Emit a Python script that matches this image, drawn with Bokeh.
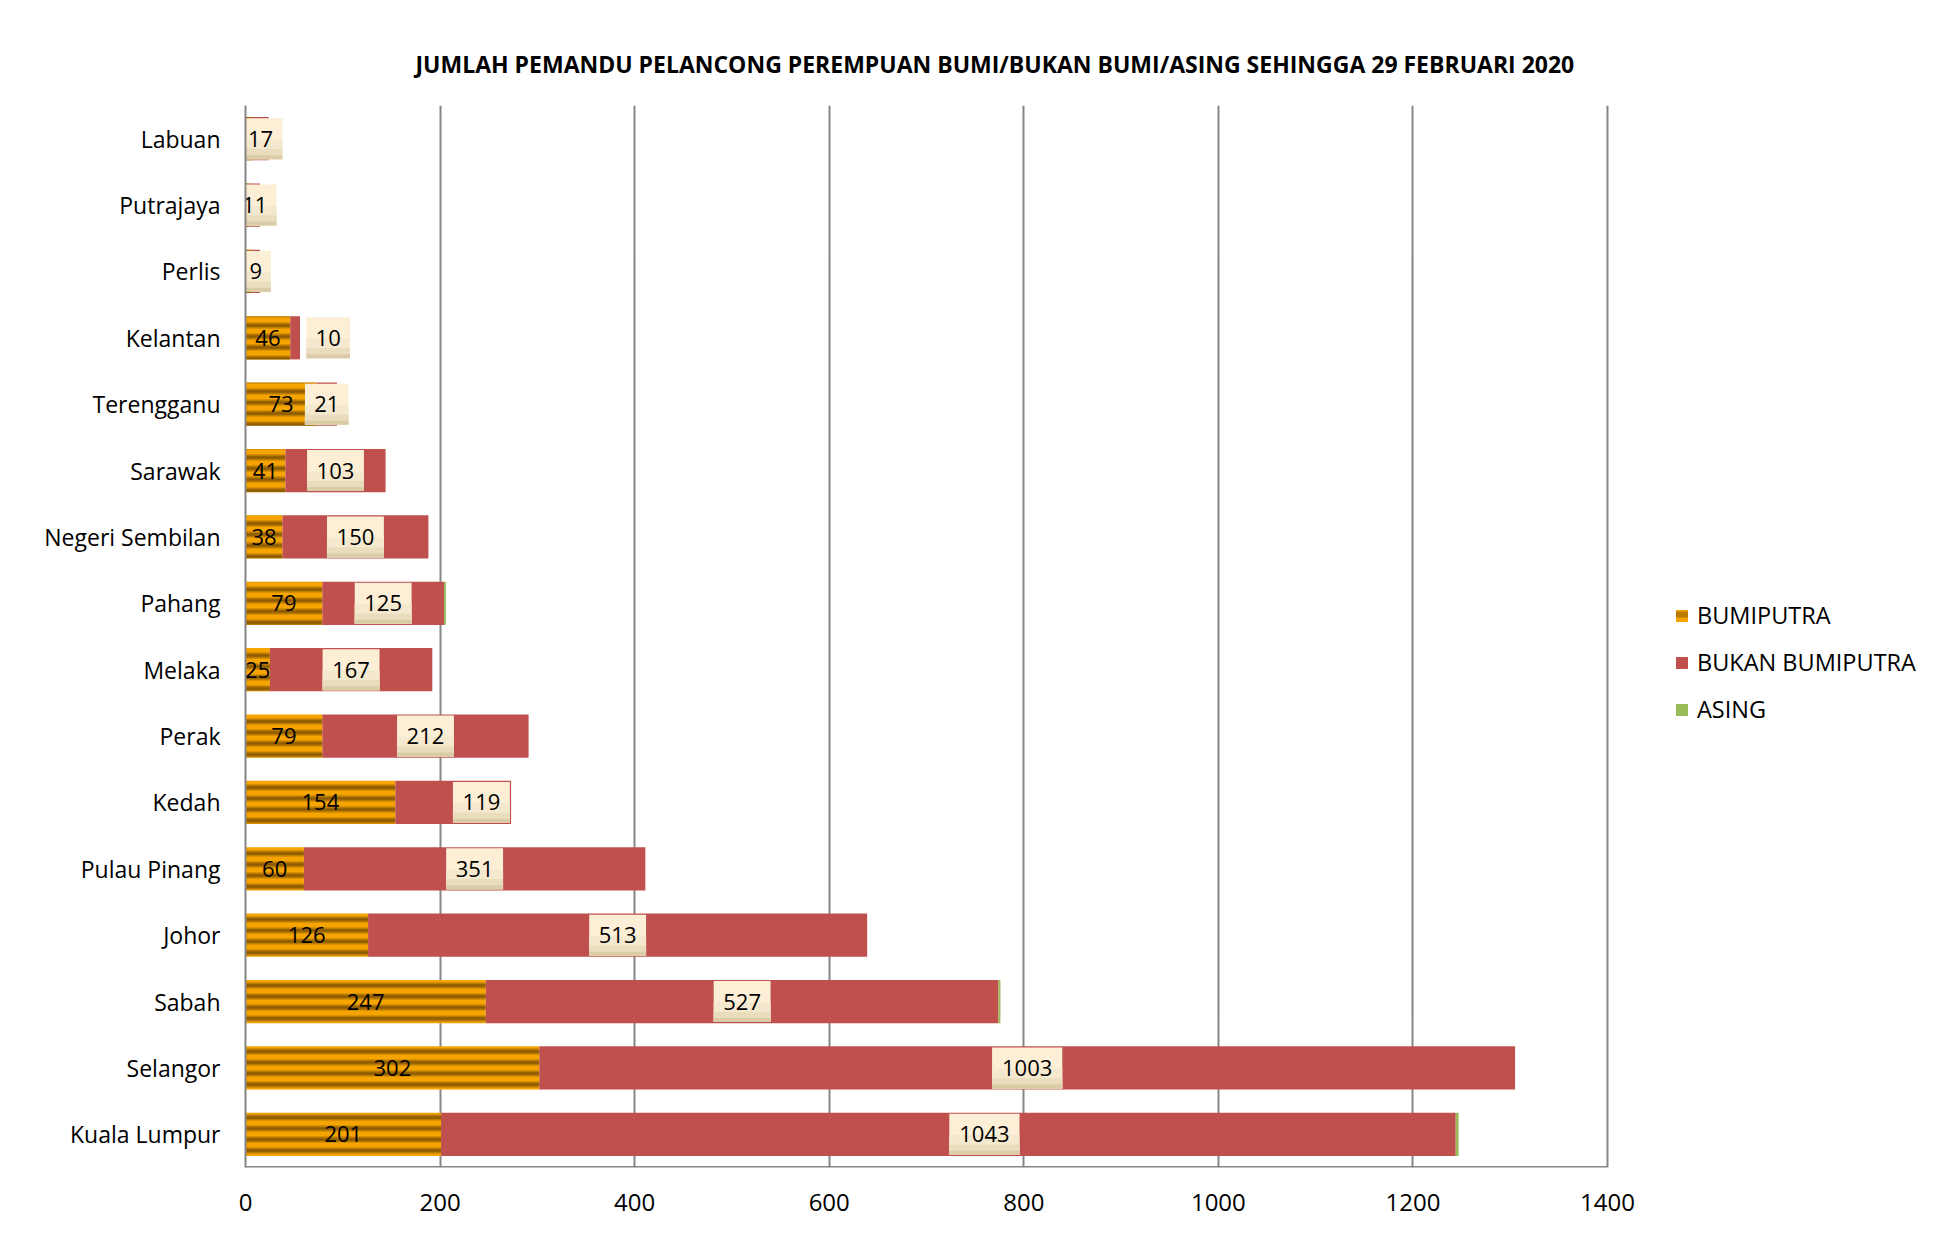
from bokeh.plotting import figure
from bokeh.models import ColumnDataSource, FactorRange, Range1d, FixedTicker, Legend, LegendItem
from bokeh.core.properties import value
from bokeh.embed import file_html
from bokeh.resources import INLINE

# ---------------- data ----------------
states = ["Labuan", "Putrajaya", "Perlis", "Kelantan", "Terengganu", "Sarawak",
          "Negeri Sembilan", "Pahang", "Melaka", "Perak", "Kedah", "Pulau Pinang",
          "Johor", "Sabah", "Selangor", "Kuala Lumpur"]
bumiputra = [7, 4, 6, 46, 73, 41, 38, 79, 25, 79, 154, 60, 126, 247, 302, 201]
bukan_bumiputra = [17, 11, 9, 10, 21, 103, 150, 125, 167, 212, 119, 351, 513, 527, 1003, 1043]
asing = [0, 0, 0, 0, 0, 0, 0, 2, 0, 0, 0, 0, 0, 2, 0, 3]
series_names = ["BUMIPUTRA", "BUKAN BUMIPUTRA", "ASING"]
x_ticks = [0, 200, 400, 600, 800, 1000, 1200, 1400]
title_text = "JUMLAH PEMANDU PELANCONG PEREMPUAN BUMI/BUKAN BUMI/ASING SEHINGGA 29 FEBRUARI 2020"
# data labels that were dragged away from the segment centre (value units)
label_shift = {"Kelantan": 34, "Kedah": 29, "Kuala Lumpur": 37}

# ---------------- styles / layout ----------------
FONT = "Open Sans"
ORANGE = "#F6A500"
STRIPE = "#704800"
RED = "#C0504D"
GREEN = "#9BBB59"
GRID = "#868686"
BAR_H = 0.65
BOX_H = 0.617

W, H = 1928, 1219
LEFT, TOP, BOTTOM, RIGHT = 245, 105, 52, 10
AXIS_PX = 1362                      # pixels spanned by the 0..1400 axis
FRAME_W = W - LEFT - RIGHT
x_max = x_ticks[-1]
x_end = x_max * FRAME_W / AXIS_PX   # room on the right for the legend

n = len(states)
b_end = [bumiputra[i] for i in range(n)]
k_end = [bumiputra[i] + bukan_bumiputra[i] for i in range(n)]
a_end = [k_end[i] + asing[i] for i in range(n)]

src = ColumnDataSource(dict(
    state=states, zero=[0] * n, b_end=b_end, k_end=k_end, a_end=a_end,
))

p = figure(
    width=W, height=H,
    y_range=FactorRange(factors=states[::-1], range_padding=0),
    x_range=Range1d(0, x_end),
    output_backend="svg", toolbar_location=None,
    min_border_left=LEFT, min_border_right=RIGHT, min_border_top=TOP, min_border_bottom=BOTTOM,
)
p.outline_line_color = None
p.background_fill_color = "white"
p.border_fill_color = "white"

r1 = p.hbar(y="state", left="zero", right="b_end", height=BAR_H, source=src,
            fill_color=ORANGE, line_color=None,
            hatch_pattern="horizontal_line", hatch_color=STRIPE,
            hatch_weight=6, hatch_scale=11, hatch_alpha=0.45)
# darker core of the stripes (same pattern origin -> soft banded look)
p.hbar(y="state", left="zero", right="b_end", height=BAR_H, source=src,
       fill_color=None, line_color=None,
       hatch_pattern="horizontal_line", hatch_color=STRIPE,
       hatch_weight=2.5, hatch_scale=11, hatch_alpha=0.6)
r2 = p.hbar(y="state", left="b_end", right="k_end", height=BAR_H, source=src,
            fill_color=RED, line_color=None)
r3 = p.hbar(y="state", left="k_end", right="a_end", height=BAR_H, source=src,
            fill_color=GREEN, line_color=None)

# BUMIPUTRA labels (no box)
bl_x, bl_y, bl_t = [], [], []
for i in range(n):
    if bumiputra[i] >= 20:
        bl_x.append(bumiputra[i] / 2)
        bl_y.append(states[i])
        bl_t.append(str(bumiputra[i]))
p.text(x=bl_x, y=bl_y, text=bl_t, text_align="center", text_baseline="middle",
       text_font=value(FONT), text_font_size="22px", text_color="black")

# BUKAN BUMIPUTRA labels (boxed)
kl_x, kl_t, kl_w = [], [], []
for i in range(n):
    v = bukan_bumiputra[i]
    kl_x.append(bumiputra[i] + v / 2 + label_shift.get(states[i], 0))
    kl_t.append(str(v))
    kl_w.append(13.3 * len(str(v)) + 17)

def band(offset, h, color):
    ys = [[s, offset] for s in states]
    p.rect(x=kl_x, y=ys, width=kl_w, width_units="screen", height=h,
           fill_color=color, line_color=None)

band(0, BOX_H, "#FCEFD6")
band(-(BOX_H / 2 - 0.15), 0.30, "#F4E9CE")
band(-(BOX_H / 2 - 0.0775), 0.155, "#E9DDBE")
band(-(BOX_H / 2 - 0.03), 0.06, "#DACCA7")
p.text(x=kl_x, y=states, text=kl_t, text_align="center", text_baseline="middle",
       text_font=value(FONT), text_font_size="22px", text_color="black")

# bottom axis line only across 0..1400
p.segment(x0=[0], x1=[x_max], y0=[[states[-1], -0.5]], y1=[[states[-1], -0.5]],
          line_color=GRID, line_width=3)

# axes / grid
p.xaxis.ticker = FixedTicker(ticks=x_ticks)
p.xgrid.ticker = FixedTicker(ticks=x_ticks)
p.xgrid.grid_line_color = GRID
p.xgrid.grid_line_width = 2
p.ygrid.grid_line_color = None
for ax in (p.xaxis[0], p.yaxis[0]):
    ax.axis_line_color = GRID
    ax.axis_line_width = 2
    ax.major_tick_line_color = None
    ax.minor_tick_line_color = None
    ax.major_label_text_font = FONT
    ax.major_label_text_color = "black"
p.xaxis.axis_line_color = None
p.xaxis.major_label_text_font_size = "24px"
p.yaxis.major_label_text_font_size = "23px"
p.xaxis.major_label_standoff = 20
p.yaxis.major_label_standoff = 19

# title
p.title.text = title_text
p.title.text_font = FONT
p.title.text_font_style = "bold"
p.title.text_font_size = "23px"
p.title.text_color = "black"
p.title.align = "left"
p.title.offset = 170
p.title.standoff = 52

legend = Legend(items=[
    LegendItem(label=series_names[0], renderers=[r1]),
    LegendItem(label=series_names[1], renderers=[r2]),
    LegendItem(label=series_names[2], renderers=[r3]),
], location=(1429, 442), glyph_width=15, glyph_height=15,
    label_text_font=FONT, label_text_font_size="23.5px", label_standoff=8,
    label_text_color="black",
    spacing=15, padding=0, margin=0, border_line_color=None,
    background_fill_alpha=0)
p.add_layout(legend, "center")

open("out.html", "w").write(file_html(p, INLINE))
